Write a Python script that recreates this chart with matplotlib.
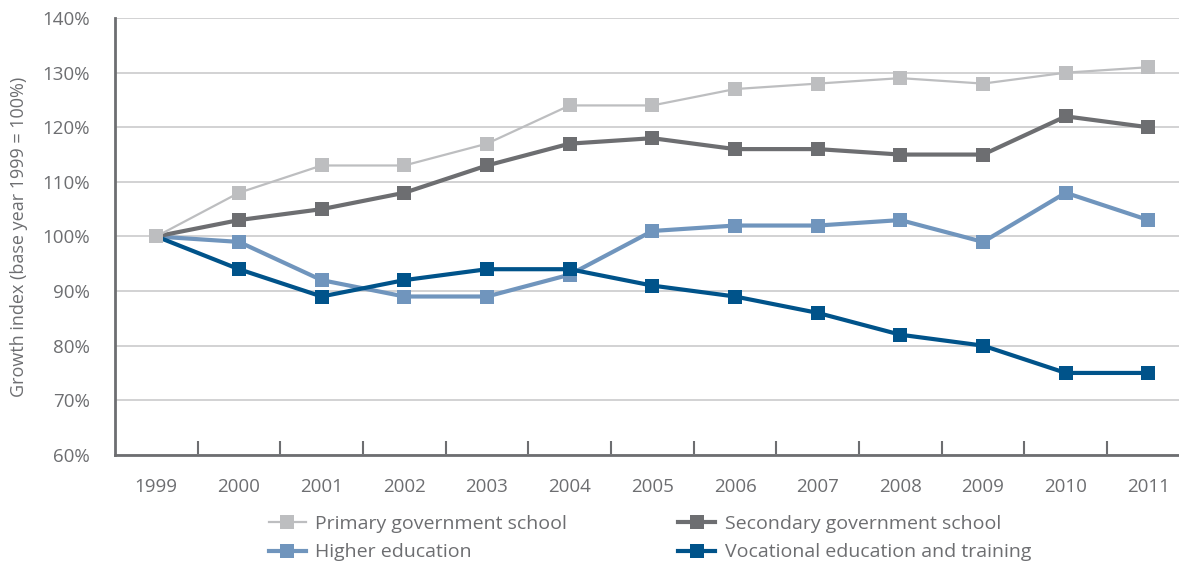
import matplotlib
matplotlib.use("Agg")
import matplotlib.pyplot as plt
from matplotlib.ticker import FixedLocator

plt.rcParams['font.family'] = ['Open Sans', 'DejaVu Sans']

years = ['1999', '2000', '2001', '2002', '2003', '2004', '2005',
         '2006', '2007', '2008', '2009', '2010', '2011']
primary = [100, 108, 113, 113, 117, 124, 124, 127, 128, 129, 128, 130, 131]
secondary = [100, 103, 105, 108, 113, 117, 118, 116, 116, 115, 115, 122, 120]
higher = [100, 99, 92, 89, 89, 93, 101, 102, 102, 103, 99, 108, 103]
vocational = [100, 94, 89, 92, 94, 94, 91, 89, 86, 82, 80, 75, 75]
y_ticks = [60, 70, 80, 90, 100, 110, 120, 130, 140]

text_col = '#6d6e71'

fig = plt.figure(figsize=(11.79, 5.65), dpi=100)
ax = fig.add_axes([0.0975, 0.195, 0.9025, 0.773])

x = list(range(len(years)))
series = {
    'primary': (primary, 'Primary government school', '#bdbec0', 1.6, 5),
    'secondary': (secondary, 'Secondary government school', '#6d6e71', 3.0, 3),
    'higher': (higher, 'Higher education', '#7095bd', 3.0, 2),
    'vocational': (vocational, 'Vocational education and training', '#00538a', 3.0, 4),
}
h = {}
for key, (vals, name, col, lw, z) in series.items():
    h[key], = ax.plot(x, vals, color=col, lw=lw, marker='s', markersize=10,
                      markeredgewidth=0, label=name, zorder=z)

ax.set_xlim(-0.5, 12.37)
ax.set_ylim(60, 140)
ax.set_yticks(y_ticks)
ax.set_yticklabels([f'{v}%' for v in y_ticks])
ax.yaxis.grid(True, color='#cfcfd0', lw=1.3)
ax.set_axisbelow(True)

ax.set_xticks(x)
ax.set_xticklabels(years)
ax.xaxis.set_minor_locator(FixedLocator([i + 0.5 for i in range(12)]))
ax.tick_params(axis='x', which='major', length=0, pad=17)
ax.tick_params(axis='x', which='minor', direction='in', length=10,
               width=1.5, color='#6d6e71')
ax.tick_params(axis='y', length=0, pad=18)
ax.tick_params(labelsize=13.5, labelcolor=text_col)

for s in ['top', 'right']:
    ax.spines[s].set_visible(False)
for s in ['left', 'bottom']:
    ax.spines[s].set_color('#6d6e71')
    ax.spines[s].set_linewidth(2)

ax.set_ylabel('Growth index (base year 1999 = 100%)', fontsize=13,
              color=text_col, labelpad=10)

# column-major fill: order so rows read primary/secondary, higher/vocational
order = ['primary', 'higher', 'secondary', 'vocational']
fig.legend(handles=[h[k] for k in order], loc='upper left',
           bbox_to_anchor=(0.228, 0.089),
           ncol=2, frameon=False, fontsize=14, labelcolor=text_col,
           handlelength=1.9, handletextpad=0.5, columnspacing=5.7,
           labelspacing=0.55, borderaxespad=0, borderpad=0)

fig.savefig('out.png', dpi=100)
